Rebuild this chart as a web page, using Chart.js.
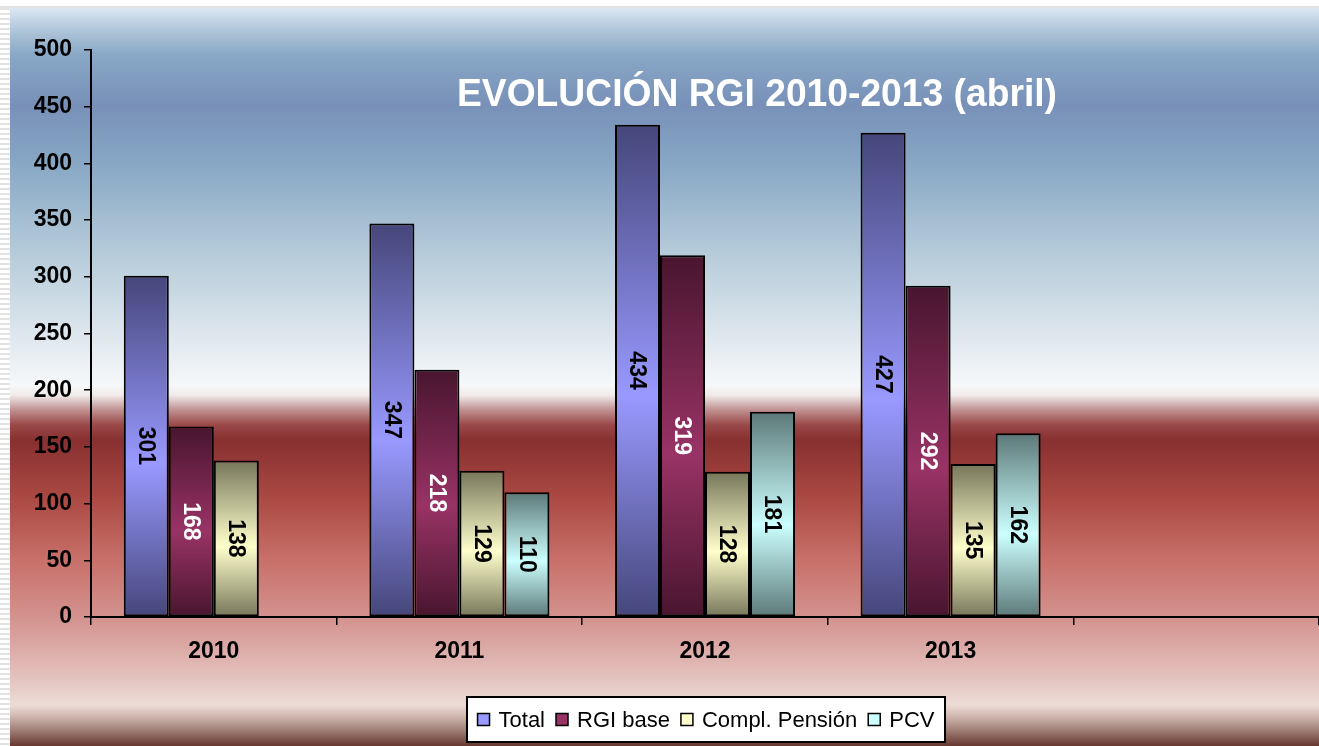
<!DOCTYPE html>
<html lang="es">
<head>
<meta charset="UTF-8">
<title>Evolución RGI 2010-2013 (abril)</title>
<script src="https://cdn.jsdelivr.net/npm/chart.js@4.4.0/dist/chart.umd.min.js"></script>
<style>
    html, body { margin: 0; padding: 0; background: #fff; }
    canvas { display: block; }
</style>
</head>
<body>
<canvas id="grafico" width="1319" height="746"></canvas>
<script>
    // datos
    const categorias = ['2010', '2011', '2012', '2013', ''];
    const total = [301, 347, 434, 427, null];
    const rgiBase = [168, 218, 319, 292, null];
    const complPension = [138, 129, 128, 135, null];
    const pcv = [null, 110, 181, 162, null];
    const ejeY = { min: 0, max: 500, paso: 50 };
    const titulo = 'EVOLUCIÓN RGI 2010-2013 (abril)';

    const fuente = '"Liberation Sans", Arial, sans-serif';

    // degradado vertical por barra: oscuro - claro - oscuro
    function degradado(oscuro, claro) {
        return function(ctx) {
            const chart = ctx.chart;
            if (ctx.type !== 'data' || ctx.raw == null || !chart.chartArea) return claro;
            const y = chart.scales.y;
            const arriba = y.getPixelForValue(ctx.raw);
            const abajo = y.getPixelForValue(0);
            const g = chart.ctx.createLinearGradient(0, arriba, 0, abajo);
            g.addColorStop(0, oscuro);
            g.addColorStop(0.55, claro);
            g.addColorStop(1, oscuro);
            return g;
        };
    }

    // fondo de la diapositiva
    const fondo = {
        id: 'fondo',
        beforeDraw(chart) {
            const c = chart.ctx, w = chart.width, h = chart.height;
            c.save();
            c.fillStyle = '#fff';
            c.fillRect(0, 0, w, h);
            c.fillStyle = '#e2e2e2';
            c.fillRect(0, 6, w, 2);
            for (let y = 8; y < h; y += 5) c.fillRect(0, y, 10, 2);
            const stops = [
                [8, '#dae7f2'], [30, '#b0c6da'], [55, '#88a8c6'], [105, '#7890b8'],
                [160, '#86a6c4'], [250, '#b4cad9'], [330, '#dbe5ec'], [385, '#f6f8fa'],
                [395, '#f1ebeb'], [410, '#c09090'], [425, '#9a4848'], [440, '#883030'],
                [500, '#ac4a44'], [560, '#c8706a'], [620, '#d49490'], [680, '#e4c4c0'],
                [705, '#ecdcd6'], [715, '#d4bcb4'], [730, '#a08078'], [746, '#663830']
            ];
            const g = c.createLinearGradient(0, 0, 0, h);
            stops.forEach(s => g.addColorStop(s[0] / h, s[1]));
            c.fillStyle = g;
            c.fillRect(10, 8, w - 10, h - 8);
            c.restore();
        },
        afterDraw(chart) {
            const c = chart.ctx;
            c.save();
            // titulo
            c.font = 'bold 38px ' + fuente;
            c.fillStyle = '#fff';
            c.textBaseline = 'alphabetic';
            const ancho = c.measureText(titulo).width;
            c.translate(457, 106);
            c.scale(600 / ancho, 1);
            c.fillText(titulo, 0, 0);
            c.restore();

            // leyenda
            c.save();
            c.font = '22px ' + fuente;
            const items = chart.data.datasets.map(d => ({ t: d.label, col: d.colorLeyenda, w: c.measureText(d.label).width }));
            let anchoTotal = 0;
            items.forEach(it => anchoTotal += 12 + 9 + it.w);
            anchoTotal += 11 * (items.length - 1);
            const bx = 467, by = 697, bw = 478, bh = 45;
            c.fillStyle = '#fff';
            c.fillRect(bx, by, bw, bh);
            c.strokeStyle = '#000';
            c.lineWidth = 2;
            c.strokeRect(bx, by, bw, bh);
            let x = bx + (bw - anchoTotal) / 2;
            const cy = by + bh / 2;
            c.textBaseline = 'middle';
            items.forEach(it => {
                c.fillStyle = it.col;
                c.fillRect(x, cy - 6, 12, 12);
                c.lineWidth = 1.5;
                c.strokeRect(x, cy - 6, 12, 12);
                c.fillStyle = '#000';
                c.fillText(it.t, x + 21, cy + 1);
                x += 12 + 9 + it.w + 11;
            });
            c.restore();
        }
    };

    // valores dentro de las barras, girados
    const etiquetas = {
        id: 'etiquetas',
        afterDatasetsDraw(chart) {
            const c = chart.ctx;
            chart.data.datasets.forEach((ds, i) => {
                const meta = chart.getDatasetMeta(i);
                meta.data.forEach((bar, j) => {
                    const v = ds.data[j];
                    if (v == null) return;
                    c.save();
                    c.translate(bar.x, (bar.y + bar.base) / 2);
                    c.rotate(Math.PI / 2);
                    c.font = 'bold 23px ' + fuente;
                    c.fillStyle = ds.colorEtiqueta;
                    c.textAlign = 'center';
                    c.textBaseline = 'middle';
                    c.fillText(String(v), 0, 1);
                    c.restore();
                });
            });
        }
    };

    const serie = (label, data, oscuro, claro, colorEtiqueta) => ({
        label: label,
        data: data,
        backgroundColor: degradado(oscuro, claro),
        borderColor: '#000',
        borderWidth: 2,
        borderSkipped: false,
        colorLeyenda: claro,
        colorEtiqueta: colorEtiqueta,
        categoryPercentage: 0.733,
        barPercentage: 1
    });

    new Chart(document.getElementById('grafico'), {
        type: 'bar',
        data: {
            labels: categorias,
            datasets: [
                serie('Total', total, '#45467a', '#9999ff', '#000'),
                serie('RGI base', rgiBase, '#48152e', '#993366', '#fff'),
                serie('Compl. Pensión', complPension, '#76765a', '#ffffcc', '#000'),
                serie('PCV', pcv, '#5c7878', '#ccffff', '#000')
            ]
        },
        options: {
            responsive: false,
            animation: false,
            layout: { padding: { top: 50, left: 10, right: 0, bottom: 0 } },
            plugins: {
                legend: { display: false },
                tooltip: { enabled: false }
            },
            scales: {
                x: {
                    grid: { drawOnChartArea: false, drawTicks: true, tickLength: 8, color: '#000', lineWidth: 1.5, offset: true },
                    border: { display: true, color: '#000', width: 2 },
                    ticks: { color: '#000', font: { family: fuente, size: 23, weight: 'bold' }, padding: 13 },
                    afterFit(scale) { scale.height = 129; }
                },
                y: {
                    min: ejeY.min,
                    max: ejeY.max,
                    grid: { drawOnChartArea: false, drawTicks: true, tickLength: 7, color: '#000', lineWidth: 1.5 },
                    border: { display: true, color: '#000', width: 2 },
                    ticks: { stepSize: ejeY.paso, color: '#000', font: { family: fuente, size: 23, weight: 'bold' }, padding: 12 },
                    afterFit(scale) { scale.width = 81; }
                }
            }
        },
        plugins: [fondo, etiquetas]
    });
</script>
</body>
</html>
